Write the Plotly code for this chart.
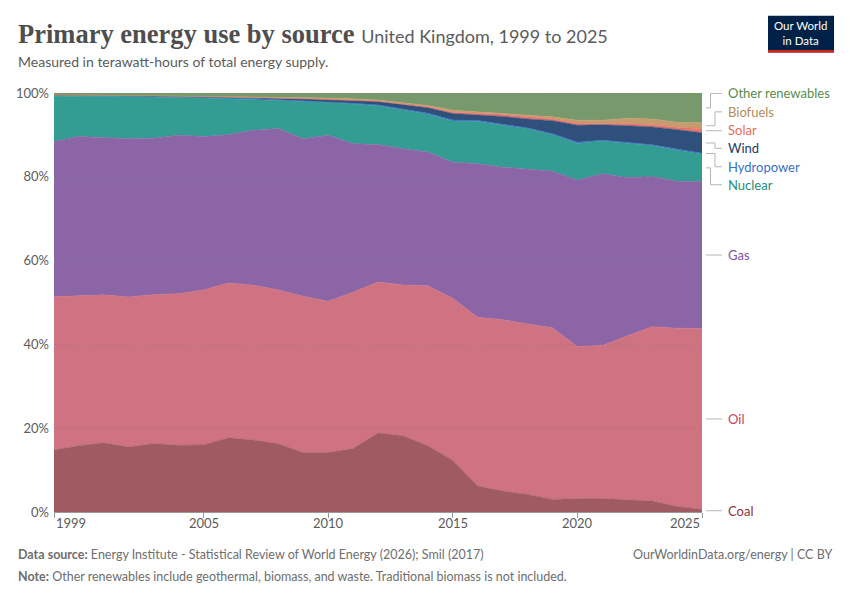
import plotly.graph_objects as go

# Primary energy use by source, United Kingdom (share of total, %)
years = list(range(1999, 2026))

coal = [14.8, 15.8, 16.5, 15.5, 16.3, 15.9, 16.0, 17.7, 17.2, 16.3, 14.2, 14.2, 15.2, 18.9,
        18.2, 15.8, 12.3, 6.2, 5.0, 4.2, 3.0, 3.2, 3.2, 2.9, 2.6, 1.3, 0.6]
oil = [36.6, 35.8, 35.3, 35.8, 35.5, 36.2, 37.0, 37.0, 37.0, 36.8, 37.4, 36.2, 37.5, 36.2,
       36.0, 38.1, 38.7, 40.2, 40.9, 40.7, 41.0, 36.3, 36.5, 39.1, 41.6, 42.6, 43.2]
gas = [37.1, 38.0, 37.5, 37.8, 37.3, 37.8, 36.6, 35.4, 37.0, 38.6, 37.7, 39.7, 35.6, 32.9,
       32.5, 31.9, 32.5, 36.6, 36.4, 36.9, 37.4, 39.7, 41.0, 37.8, 35.8, 35.1, 35.0]
nuclear = [10.8, 9.6, 9.9, 10.0, 9.9, 9.0, 9.2, 8.6, 7.4, 6.7, 8.9, 7.9, 9.5, 9.3,
           9.3, 9.0, 9.8, 10.1, 10.0, 9.7, 8.7, 8.8, 7.8, 8.2, 7.4, 7.4, 6.6]
hydro = [0.25, 0.2, 0.15, 0.2, 0.15, 0.2, 0.2, 0.2, 0.2, 0.2, 0.2, 0.15, 0.2, 0.2,
         0.2, 0.25, 0.25, 0.2, 0.25, 0.2, 0.25, 0.3, 0.2, 0.2, 0.2, 0.25, 0.2]
wind = [0.05, 0.05, 0.05, 0.05, 0.06, 0.1, 0.15, 0.2, 0.25, 0.35, 0.45, 0.5, 0.7, 0.8,
        1.1, 1.3, 1.55, 1.25, 1.85, 2.15, 3.15, 4.05, 3.65, 3.95, 4.25, 4.65, 4.85]
solar = [0, 0, 0, 0, 0, 0, 0, 0, 0, 0, 0, 0, 0.01, 0.05,
         0.1, 0.2, 0.3, 0.5, 0.5, 0.5, 0.4, 0.5, 0.4, 0.5, 0.5, 0.55, 1.0]
biofuels = [0, 0, 0, 0, 0.01, 0.02, 0.05, 0.1, 0.15, 0.25, 0.3, 0.35, 0.35, 0.3,
            0.3, 0.3, 0.5, 0.3, 0.3, 0.5, 0.5, 0.7, 0.7, 1.3, 1.4, 1.2, 1.4]
other = [0.5, 0.5, 0.55, 0.6, 0.65, 0.75, 0.8, 0.85, 0.9, 1.0, 1.1, 1.2, 1.4, 1.7,
         2.3, 3.0, 4.1, 4.5, 4.8, 5.2, 5.7, 6.5, 6.5, 6.0, 6.2, 7.0, 7.1]

names = ["Coal", "Oil", "Gas", "Nuclear", "Hydropower", "Wind", "Solar", "Biofuels", "Other renewables"]
series = [coal, oil, gas, nuclear, hydro, wind, solar, biofuels, other]
fills = ["#a05a61", "#cf7282", "#8c65a7", "#339d93", "#3a6ecb", "#2f507a", "#e8756e", "#c69c6e", "#78996b"]
label_colors = ["#8c3442", "#c2455e", "#7e56a0", "#1f8e80", "#3a6fc3", "#1b3a67", "#e56e5a", "#b08b5d", "#5b8a4c"]

xtick_vals = [1999, 2005, 2010, 2015, 2020, 2025]
ytick_vals = [0, 20, 40, 60, 80, 100]
ytick_text = ["0%", "20%", "40%", "60%", "80%", "100%"]

# label placement on the right (None -> at band middle), elbow x in px
label_y = [None, None, None, 78.1, 82.4, 86.8, 91.2, 95.5, 99.9]
elbow_px = [None, None, None, 710.5, 715, 715, 715, 715, 710.5]

# page has an 8px body margin, so build the figure 8px smaller and shift
OFF = 8
W, H = 850 - OFF, 600 - OFF
L, R, T, B = 54 - OFF, 148, 92.5 - OFF, 87.5
pw = W - L - R
ph = H - T - B

def xp(px):
    # reference pixel x -> paper x
    return (px - OFF - L) / pw

def yp(px):
    # reference pixel y -> paper y
    return 1 + (T - (px - OFF)) / ph

fig = go.Figure()
for name, vals, col in zip(names, series, fills):
    fig.add_trace(go.Scatter(
        x=years, y=vals, name=name, mode="lines",
        stackgroup="one", groupnorm="percent",
        line=dict(width=0.6, color=col), fillcolor=col,
        hoverinfo="skip"))

shapes = []
annots = []

# right labels with connectors
last = [s[-1] for s in series]
tot = sum(last)
cum = 0
lc = "#b5b5b5"
for i, name in enumerate(names):
    lo = cum / tot * 100
    cum += last[i]
    hi = cum / tot * 100
    mid = (lo + hi) / 2
    ly = label_y[i] if label_y[i] is not None else mid
    if elbow_px[i] is None or abs(ly - mid) < 0.3:
        shapes.append(dict(type="line", xref="paper", yref="y",
                           x0=xp(706), x1=xp(722), y0=mid, y1=mid,
                           line=dict(color=lc, width=1)))
    else:
        ex = xp(elbow_px[i])
        for x0, x1, y0, y1 in [(xp(706), ex, mid, mid), (ex, ex, mid, ly), (ex, xp(722), ly, ly)]:
            shapes.append(dict(type="line", xref="paper", yref="y",
                               x0=x0, x1=x1, y0=y0, y1=y1,
                               line=dict(color=lc, width=1)))
    annots.append(dict(text=name, xref="paper", yref="y", x=xp(726), y=ly,
                       xanchor="left", yanchor="middle", showarrow=False,
                       font=dict(family="Lato", size=13, color=label_colors[i])))

# faint gridlines over the areas
for g in ytick_vals[1:]:
    shapes.append(dict(type="line", xref="paper", yref="y", x0=0, x1=1, y0=g, y1=g,
                       layer="above",
                       line=dict(color="rgba(120,120,120,0.22)", width=1, dash="4px,3px")))

# x tick labels: first one left aligned, last one right aligned
for v in xtick_vals:
    anchor = "left" if v == xtick_vals[0] else ("right" if v == xtick_vals[-1] else "center")
    annots.append(dict(text=str(v), xref="x", yref="paper", x=v, y=yp(524),
                       xanchor=anchor, yanchor="middle", showarrow=False,
                       font=dict(family="Lato", size=13, color="#5b5b5b")))

# logo
shapes.append(dict(type="rect", xref="paper", yref="paper",
                   x0=xp(768), x1=xp(834), y0=yp(52), y1=yp(15),
                   fillcolor="#002147", line=dict(width=0)))
shapes.append(dict(type="rect", xref="paper", yref="paper",
                   x0=xp(768), x1=xp(834), y0=yp(52), y1=yp(49.5),
                   fillcolor="#ce261e", line=dict(width=0)))

annots += [
    dict(text="Our World<br>in Data", xref="paper", yref="paper", x=xp(801), y=yp(32),
         xanchor="center", yanchor="middle", showarrow=False,
         font=dict(family="Lato", size=11.5, color="white")),
    dict(text="<b>Primary energy use by source</b> <span style='font-family:Lato;font-size:18px;color:#5b5b5b'>United Kingdom, 1999 to 2025</span>",
         xref="paper", yref="paper", x=xp(16), y=yp(33), xanchor="left", yanchor="middle",
         showarrow=False, font=dict(family="Liberation Serif", size=26.5, color="#4e4e4e")),
    dict(text="Measured in terawatt-hours of total energy supply.",
         xref="paper", yref="paper", x=xp(16), y=yp(61), xanchor="left", yanchor="middle",
         showarrow=False, font=dict(family="Lato", size=14, color="#5b5b5b")),
    dict(text="<b>Data source:</b> Energy Institute - Statistical Review of World Energy (2026); Smil (2017)",
         xref="paper", yref="paper", x=xp(16), y=yp(555), xanchor="left", yanchor="middle",
         showarrow=False, font=dict(family="Lato", size=12.5, color="#6e6e6e")),
    dict(text="OurWorldinData.org/energy | CC BY",
         xref="paper", yref="paper", x=xp(834), y=yp(555), xanchor="right", yanchor="middle",
         showarrow=False, font=dict(family="Lato", size=12.5, color="#6e6e6e")),
    dict(text="<b>Note:</b> Other renewables include geothermal, biomass, and waste. Traditional biomass is not included.",
         xref="paper", yref="paper", x=xp(16), y=yp(577), xanchor="left", yanchor="middle",
         showarrow=False, font=dict(family="Lato", size=12.5, color="#6e6e6e")),
]

fig.update_layout(
    width=W, height=H,
    margin=dict(l=L, r=R, t=T, b=B),
    paper_bgcolor="white", plot_bgcolor="white",
    showlegend=False,
    shapes=shapes, annotations=annots,
    font=dict(family="Lato", color="#5b5b5b"),
    xaxis=dict(range=[1999, 2025], tickvals=xtick_vals, showticklabels=False,
               automargin=False,
               showgrid=False, zeroline=False, showline=True, linecolor="#999999",
               ticks="outside", ticklen=5, tickcolor="#999999"),
    yaxis=dict(range=[0, 100], tickvals=ytick_vals, ticktext=ytick_text,
               automargin=False,
               showgrid=True, gridcolor="#dddddd", griddash="dash", zeroline=False,
               ticks="", ticklabelstandoff=4,
               tickfont=dict(family="Lato", size=13, color="#5b5b5b")),
)

fig.write_html("out.html")
